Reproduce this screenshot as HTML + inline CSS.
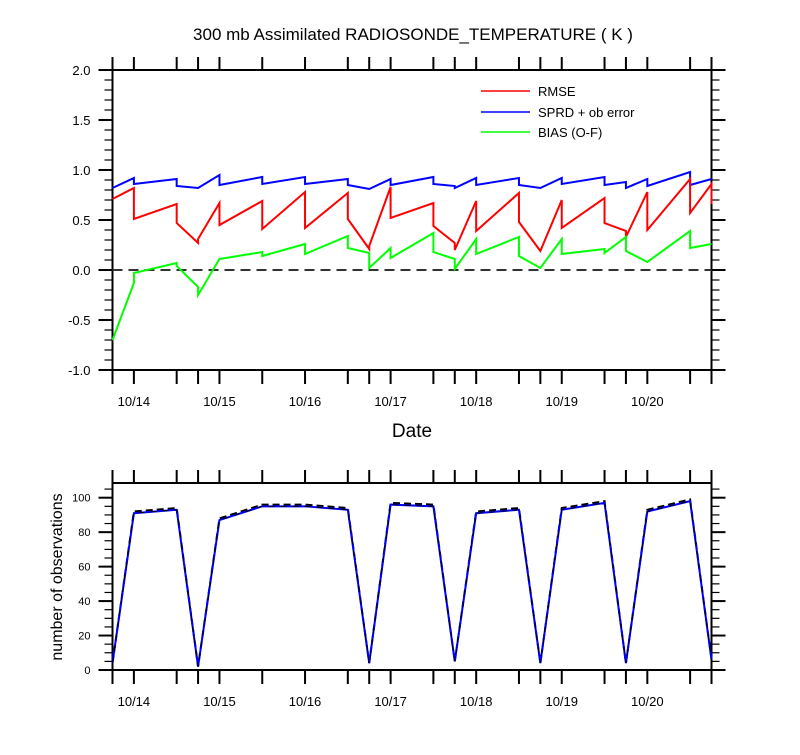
<!DOCTYPE html>
<html><head><meta charset="utf-8"><style>
body{margin:0;background:#fff}
svg text{font-family:"Liberation Sans",sans-serif;fill:#000}
</style></head><body>
<svg id="c" width="800" height="750" xmlns="http://www.w3.org/2000/svg">
<text x="413" y="40" font-size="17" text-anchor="middle">300 mb Assimilated RADIOSONDE_TEMPERATURE ( K )</text>
<text x="412" y="437" font-size="19" text-anchor="middle">Date</text>
<text transform="translate(62,577) rotate(-90)" font-size="16" text-anchor="middle">number of observations</text>
<g>
<line x1="481" y1="91" x2="530" y2="91" stroke="#f00" stroke-width="1.5"/>
<text x="538" y="96" font-size="13">RMSE</text>
<line x1="481" y1="112" x2="530" y2="112" stroke="#00f" stroke-width="1.5"/>
<text x="538" y="117" font-size="13">SPRD + ob error</text>
<line x1="481" y1="132" x2="530" y2="132" stroke="#0f0" stroke-width="1.5"/>
<text x="538" y="137" font-size="13">BIAS (O-F)</text>
</g>
</svg>
<script>
// time index in 6-hour steps from 10/13 18Z
const times=[0,1,3,4,5,7,9,11,12,13,15,16,17,19,20,21,23,24,25,27,28];
const rmsePrior=[0.71,0.82,0.66,0.27,0.67,0.69,0.78,0.77,0.21,0.83,0.67,0.27,0.69,0.77,0.19,0.70,0.72,0.39,0.78,0.91,0.86];
const rmsePost =[0.71,0.51,0.47,0.31,0.45,0.41,0.42,0.51,0.24,0.52,0.44,0.20,0.39,0.48,0.19,0.42,0.47,0.33,0.40,0.57,0.66];
const sprdPrior=[0.82,0.92,0.91,0.82,0.95,0.93,0.93,0.91,0.81,0.91,0.93,0.84,0.92,0.92,0.82,0.92,0.93,0.88,0.91,0.98,0.91];
const sprdPost =[0.82,0.86,0.84,0.82,0.85,0.86,0.86,0.85,0.81,0.85,0.86,0.82,0.85,0.85,0.82,0.86,0.85,0.82,0.84,0.85,0.91];
const biasPrior=[-0.70,-0.13,0.07,-0.17,0.11,0.18,0.26,0.34,0.17,0.22,0.37,0.11,0.31,0.33,0.02,0.31,0.21,0.33,0.08,0.39,0.26];
const biasPost =[-0.70,-0.03,0.04,-0.25,0.11,0.14,0.16,0.22,0.02,0.12,0.18,0.01,0.16,0.14,0.02,0.16,0.17,0.19,0.08,0.22,0.26];
const obsUsed    =[4,91,93,2,87,95,95,93,4,96,95,5,91,93,4,93,97,4,92,98,6];
const obsPossible=[4,92,94,2,88,96,96,94,4,97,96,5,92,94,4,94,98,4,93,99,6];
const dayLabels=["10/14","10/15","10/16","10/17","10/18","10/19","10/20"];
const dayIdx=[1,5,9,13,17,21,25];
const topTicks=["2.0","1.5","1.0","0.5","0.0","-0.5","-1.0"];
const topTickVals=[2,1.5,1,0.5,0,-0.5,-1];
const botTickVals=[0,20,40,60,80,100];

const svg=document.getElementById('c');
const NS='http://www.w3.org/2000/svg';
const X0=112.5,X1=711.5;
const x=t=>X0+(t/28)*(X1-X0);
const yT=v=>270-v*100;
const yB=v=>670-v*(670-497.7)/100;
function mk(tag,a){const e=document.createElementNS(NS,tag);for(const k in a)e.setAttribute(k,a[k]);svg.appendChild(e);return e;}

function frame(top,bot,name){
  const r=mk('rect',{x:X0,y:top,width:X1-X0,height:bot-top,fill:'none',stroke:'#000','stroke-width':2});
  
  
  times.forEach(t=>{
    const a=mk('line',{x1:x(t),x2:x(t),y1:top,y2:top-13,stroke:'#000','stroke-width':2});
    
    
    const b=mk('line',{x1:x(t),x2:x(t),y1:bot,y2:bot+14,stroke:'#000','stroke-width':2});
    
    
  });
  dayIdx.forEach((t,i)=>{
    const tx=mk('text',{x:x(t),y:bot+36,'font-size':13,'text-anchor':'middle'});
    tx.textContent=dayLabels[i];
    
    
  });
}
frame(70,370,'top-panel');
frame(483,670,'bottom-panel');

// top y ticks
for(let v=-1;v<=2.001;v+=0.1){
  const maj=Math.abs(v*2-Math.round(v*2))<1e-6;
  const L=maj?14:8;
  [[X0,-1],[X1,1]].forEach(([xx,d])=>{
    const l=mk('line',{x1:xx,x2:xx+d*L,y1:yT(v),y2:yT(v),stroke:'#000','stroke-width':maj?2:1.2});
    
    
  });
}
topTickVals.forEach((v,i)=>{
  const t=mk('text',{x:X0-22,y:yT(v)+5,'font-size':13,'text-anchor':'end'});
  t.textContent=topTicks[i];
  
  
});
// bottom y ticks
for(let v=0;v<=105;v+=5){
  const maj=v%20===0;
  const L=maj?14:8;
  [[X0,-1],[X1,1]].forEach(([xx,d])=>{
    const l=mk('line',{x1:xx,x2:xx+d*L,y1:yB(v),y2:yB(v),stroke:'#000','stroke-width':maj?2:1.2});
    
    
  });
}
botTickVals.forEach(v=>{
  const t=mk('text',{x:X0-22,y:yB(v)+4,'font-size':11,'text-anchor':'end'});
  t.textContent=String(v);
  
  
});

// zero line
const z=mk('line',{x1:X0,x2:X1,y1:yT(0),y2:yT(0),stroke:'#333','stroke-width':2,'stroke-dasharray':'10,6'});



function saw(pr,po,col,name){
  let d='';
  times.forEach((t,i)=>{d+=(i?'L':'M')+x(t)+','+yT(pr[i])+'L'+x(t)+','+yT(po[i]);});
  const p=mk('path',{d:d,fill:'none',stroke:col,'stroke-width':2});
  
  
}
saw(sprdPrior,sprdPost,'#00f','sprd-line');
saw(rmsePrior,rmsePost,'#f00','rmse-line');
saw(biasPrior,biasPost,'#0f0','bias-line');

function obs(arr,col,dash,w,name){
  const d=times.map((t,i)=>(i?'L':'M')+x(t)+','+yB(arr[i])).join('');
  const a={d:d,fill:'none',stroke:col,'stroke-width':w};
  if(dash)a['stroke-dasharray']=dash;
  const p=mk('path',a);
  
  
}
obs(obsPossible,'#000','7,4',2,'obs-possible-line');
obs(obsUsed,'#00f',null,2,'obs-used-line');
obs(obsUsed,'#000','6,6',1,'obs-used-dash');
</script>
</body></html>
